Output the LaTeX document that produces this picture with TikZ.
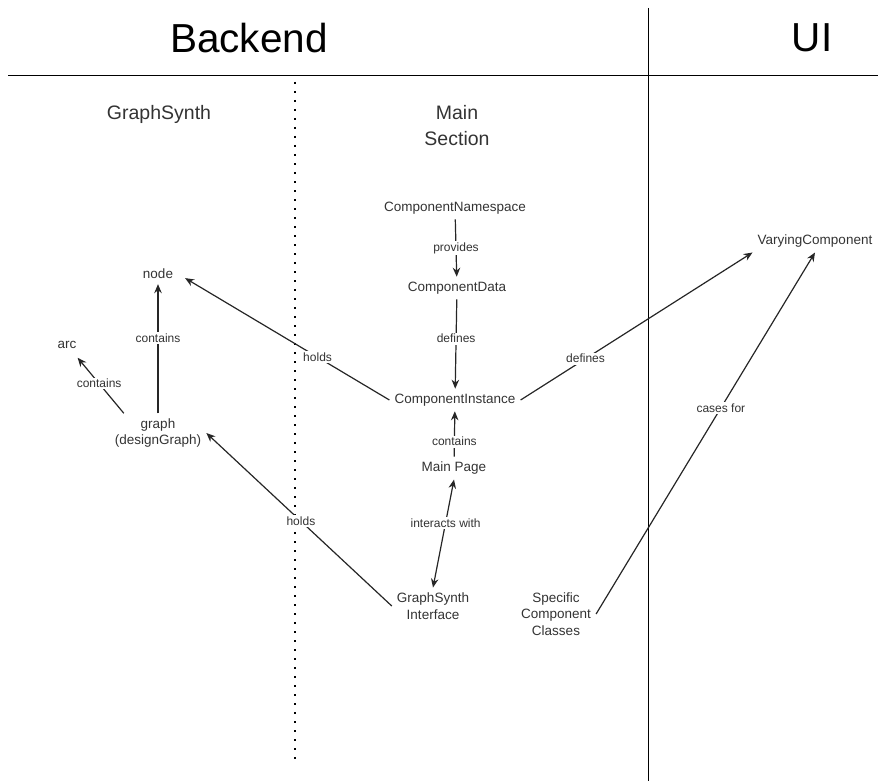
\documentclass[tikz,border=0pt]{standalone}
\usepackage{fontspec}
\setmainfont{Liberation Sans}
\usetikzlibrary{
  positioning,
  arrows.meta
}

\begin{document}
\begin{tikzpicture}[x=1pt,y=-1pt,
	>={Stealth[length=9pt,width=7.5pt]},
	txt/.style={font=\fontsize{13.5}{16.5}\selectfont,text=black!80,align=center,inner sep=5pt},
	lbl/.style={font=\fontsize{12}{14}\selectfont,text=black!80,fill=white,inner sep=1.5pt},
	part/.style={font=\fontsize{19.5}{26}\selectfont,text=black!80,align=center},
	head/.style={font=\fontsize{40.5}{44}\selectfont},
	link/.style={draw=black!85,line width=1.2pt,->}]

	\useasboundingbox (0,0) rectangle (878,781);

	\draw[line width=1pt] (8,76) -- (878,76);
	\draw[line width=1pt] (648,8) -- (648,781);
	\draw[line width=2pt,dash pattern=on 2pt off 7pt] (295,82) -- (295,762);

	\node[head] (backend) at (249,38) {Backend};
	\node[head] (ui) at (812,38) {UI};

	\node[part] (gsynth) at (159,114) {GraphSynth};
	\node[part] (mainsec) at (457,126) {Main\\Section};

	\node[txt] (ns) at (455,208) {ComponentNamespace};
	\node[txt] (data) at (457,288) {ComponentData};
	\node[txt] (inst) at (455,400) {ComponentInstance};
	\node[txt] (mainpage) at (454,468) {Main Page};
	\node[txt] (gsi) at (433,606) {GraphSynth\\Interface};
	\node[txt] (spec) at (556,614) {Specific\\Component\\Classes};
	\node[txt] (vary) at (815,241) {VaryingComponent};

	\node[txt] (gnode) at (158,274) {node};
	\node[txt] (arc) at (67,345) {arc};
	\node[txt] (graph) at (158,433) {graph\\(designGraph)};

	\draw[link] (ns) -- (data) node[lbl,pos=0.5] {provides};
	\draw[link] (data) -- (inst) node[lbl,pos=0.44] {defines};
	\draw[link] (mainpage) -- (inst) node[lbl,pos=0.33] {contains};
	\draw[link,<->] (mainpage.south) -- (gsi.north) node[lbl,pos=0.4] {interacts with};

	\draw[link,shorten >=8pt] (inst.west) -- (gnode.east) node[lbl,pos=0.34] {holds};
	\draw[link] (inst.east) -- (vary.south west) node[lbl,pos=0.28] {defines};
	\draw[link] (spec.east) -- (vary.south) node[lbl,pos=0.57] {cases for};
	\draw[link] (gsi.west) -- (graph.east) node[lbl,pos=0.49] {holds};

	\draw[link] (graph.north) -- (gnode.south) node[lbl,pos=0.58] {contains};
	\draw[link,shorten >=5pt] (graph.150) -- (arc) node[lbl,pos=0.5] {contains};

\end{tikzpicture}
\end{document}
